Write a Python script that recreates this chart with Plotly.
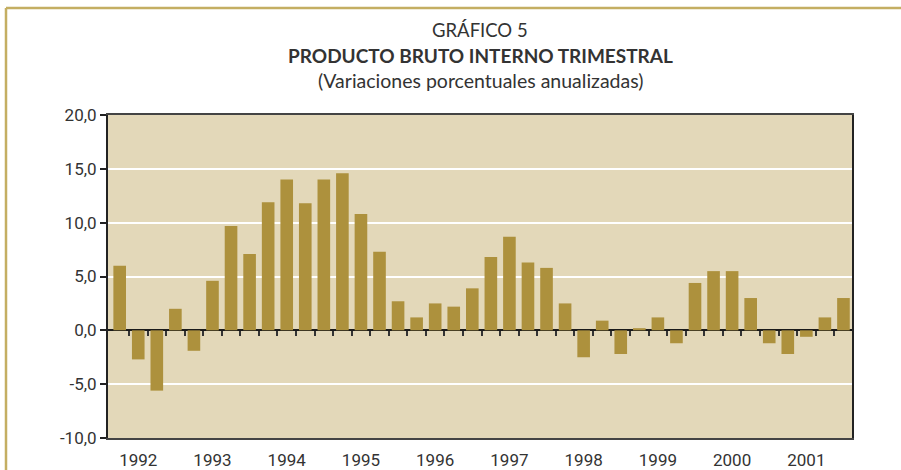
import plotly.graph_objects as go

# ---- data ----
years = ["1992", "1993", "1994", "1995", "1996", "1997", "1998", "1999", "2000", "2001"]
quarters_per_year = 4
growth = [
    6.0, -2.7, -5.6, 2.0,      # 1992
    -1.9, 4.6, 9.7, 7.1,       # 1993
    11.9, 14.0, 11.8, 14.0,    # 1994
    14.6, 10.8, 7.3, 2.7,      # 1995
    1.2, 2.5, 2.2, 3.9,        # 1996
    6.8, 8.7, 6.3, 5.8,        # 1997
    2.5, -2.5, 0.9, -2.2,      # 1998
    0.2, 1.2, -1.2, 4.4,       # 1999
    5.5, 5.5, 3.0, -1.2,       # 2000
    -2.2, -0.6, 1.2, 3.0,      # 2001
]
y_tick_values = [-10, -5, 0, 5, 10, 15, 20]
y_tick_labels = ["-10,0", "-5,0", "0,0", "5,0", "10,0", "15,0", "20,0"]

title_line1 = "GRÁFICO 5"
title_line2 = "PRODUCTO BRUTO INTERNO TRIMESTRAL"
title_line3 = "(Variaciones porcentuales anualizadas)"

# ---- styling ----
W, H = 901, 470
ML, MR, MT, MB = 108, 49, 115, 32
BAR_COLOR = "#AD913D"
BG_COLOR = "#E3D8B9"
BORDER_COLOR = "#C4AE62"
TEXT_COLOR = "#333333"
FONT = "Roboto, 'Open Sans', sans-serif"
TITLE_FONT = "Lato, 'Liberation Sans', sans-serif"

n = len(growth)
x_idx = list(range(n))
year_pos = [i * quarters_per_year + 1 for i in range(len(years))]
boundaries = [i + 0.5 for i in range(n - 1)]
x_range = [-0.63, n - 1 + 0.46]

fig = go.Figure()
fig.add_trace(go.Bar(
    x=x_idx, y=growth, marker=dict(color=BAR_COLOR, line=dict(width=0)),
    width=0.68, showlegend=False, hoverinfo="y",
))
# invisible trace to activate secondary x axis (ticks along zero line)
fig.add_trace(go.Scatter(x=[x_range[0]], y=[0], xaxis="x2", mode="markers",
                         marker=dict(opacity=0), showlegend=False, hoverinfo="skip"))

y_min, y_max = y_tick_values[0], y_tick_values[-1]
zero_frac = (0 - y_min) / (y_max - y_min)

fig.update_layout(
    width=W, height=H,
    margin=dict(l=ML, r=MR, t=MT, b=MB, autoexpand=False),
    paper_bgcolor="white",
    plot_bgcolor=BG_COLOR,
    font=dict(family=FONT, color=TEXT_COLOR, size=17),
    xaxis=dict(
        range=x_range, tickmode="array", tickvals=year_pos, ticktext=years,
        showgrid=False, zeroline=False, ticks="", showline=True, mirror=True,
        linecolor="#444444", linewidth=2, ticklabelstandoff=6, automargin=False,
        tickfont=dict(size=17, color=TEXT_COLOR),
    ),
    xaxis2=dict(
        range=x_range, overlaying="x", anchor="free", position=zero_frac,
        side="bottom", tickmode="array", tickvals=boundaries, ticks="outside",
        ticklen=5, tickwidth=2, tickcolor="#333333", showticklabels=False,
        showgrid=False, zeroline=False, showline=False, automargin=False,
    ),
    yaxis=dict(
        range=[y_min, y_max], tickmode="array", tickvals=y_tick_values,
        ticktext=y_tick_labels, showgrid=True, gridcolor="white", gridwidth=2,
        zeroline=True, zerolinecolor="#1a1a1a", zerolinewidth=2,
        showline=True, mirror=True, linecolor="#222222", linewidth=2,
        ticks="outside", ticklen=6, tickwidth=2, tickcolor="#222222",
        tickfont=dict(size=17, color=TEXT_COLOR), automargin=False,
    ),
)

def px_to_paper_x(px):
    return (px - ML) / (W - ML - MR)

def px_to_paper_y(py):
    return (H - MB - py) / (H - MT - MB)

cx = 0.5
for txt, ypx, size in [(title_line1, 30, 18.5),
                       ("<b>" + title_line2 + "</b>", 56, 19),
                       (title_line3, 81, 19.5)]:
    fig.add_annotation(text=txt, x=cx, y=px_to_paper_y(ypx), xref="paper", yref="paper",
                       xanchor="center", yanchor="middle", showarrow=False,
                       font=dict(family=TITLE_FONT, size=size, color=TEXT_COLOR))

# outer decorative frame (top and left)
fig.add_shape(type="line", xref="paper", yref="paper",
              x0=px_to_paper_x(6), x1=px_to_paper_x(W + 5), y0=px_to_paper_y(8), y1=px_to_paper_y(8),
              line=dict(color=BORDER_COLOR, width=2.5))
fig.add_shape(type="line", xref="paper", yref="paper",
              x0=px_to_paper_x(6), x1=px_to_paper_x(6), y0=px_to_paper_y(8), y1=px_to_paper_y(H + 5),
              line=dict(color=BORDER_COLOR, width=2.5))

fig.write_html("out.html", config={"displayModeBar": False},
               post_script="document.body.style.margin='0';")
